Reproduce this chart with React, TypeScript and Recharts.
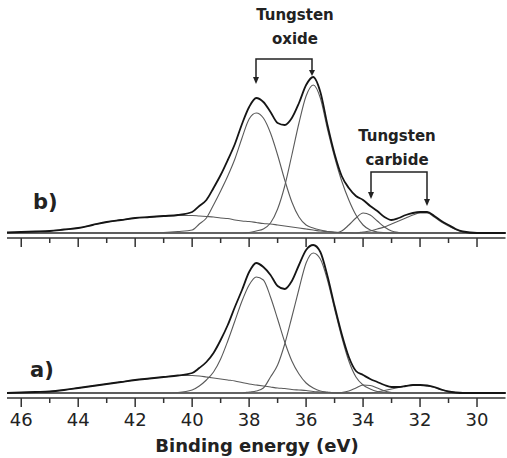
import { LineChart, Line, XAxis, YAxis, ReferenceLine } from "recharts";

// binding energy grid (eV), finer across the W 4f region
const energies = [
  46.5, 46, 45.5, 45, 44.5, 44, 43.5, 43, 42.5, 42, 41.5, 41, 40.5, 40,
  39.75, 39.5, 39.25, 39, 38.75, 38.5, 38.25, 38, 37.75, 37.5,
  37.25, 37, 36.75, 36.5, 36.25, 36, 35.75, 35.5, 35.25, 35,
  34.75, 34.5, 34.25, 34, 33.75, 33.5, 33.25, 33, 32.75, 32.5,
  32.25, 32, 31.75, 31.5, 31.25, 31, 30.75, 30.5,
  30, 29.5, 29,
];

const ticks = [30, 31, 32, 33, 34, 35, 36, 37, 38, 39, 40, 41, 42, 43, 44, 45, 46];

// ---- spectrum b) ----
const bEnvelope = [
  0.5, 1, 1.5, 2, 3.5, 5, 8, 11, 13, 15, 16, 17, 18, 21,
  27, 33, 45, 58, 73, 89, 109, 126, 135, 131,
  121, 110, 108, 115, 130, 148, 156, 141, 108, 79,
  57, 45, 37, 33, 27, 22, 16, 13, 15, 18,
  20, 21, 21, 17, 12, 8, 4, 1.5,
  0, 0, 0,
];
const bBackground = [
  0, 1, 1.5, 2, 3.5, 5, 8, 11, 13, 15, 16, 17, 17.5, 17.5,
  17, 16.5, 16, 15, 14.5, 13, 12, 11.5, 10.5, 9.5,
  9, 8, 7, 6, 5, 4, 3, 2, 1.5, 1,
  0.5, 0.3, 0, 0, 0, 0, 0, 0, 0, 0,
  0, 0, 0, 0, 0, 0, 0, 0,
  0, 0, 0,
];
const bOxide52 = [
  0, 0, 0, 0, 0, 0, 0, 0, 0, 0, 0, 0.5, 1.5, 3,
  9, 15, 28, 42, 57, 74, 95, 114, 120, 115,
  100, 78, 53, 31, 16, 8, 5, 3, 1.5, 0.5,
  0, 0, 0, 0, 0, 0, 0, 0, 0, 0,
  0, 0, 0, 0, 0, 0, 0, 0,
  0, 0, 0,
];
const bOxide72 = [
  0, 0, 0, 0, 0, 0, 0, 0, 0, 0, 0, 0, 0, 0,
  0, 0, 0, 0, 0, 0, 0, 0.5, 2, 4,
  10, 24, 47, 78, 110, 137, 148, 135, 104, 76,
  52, 33, 18, 8, 3, 1, 0.3, 0, 0, 0,
  0, 0, 0, 0, 0, 0, 0, 0,
  0, 0, 0,
];
const bCarbide52 = [
  0, 0, 0, 0, 0, 0, 0, 0, 0, 0, 0, 0, 0, 0,
  0, 0, 0, 0, 0, 0, 0, 0, 0, 0,
  0, 0, 0, 0, 0, 0, 0, 0, 0, 0,
  2, 8, 15, 20, 18, 12, 6, 2, 0.5, 0,
  0, 0, 0, 0, 0, 0, 0, 0,
  0, 0, 0,
];
const bCarbide72 = [
  0, 0, 0, 0, 0, 0, 0, 0, 0, 0, 0, 0, 0, 0,
  0, 0, 0, 0, 0, 0, 0, 0, 0, 0,
  0, 0, 0, 0, 0, 0, 0, 0, 0, 0,
  0, 0, 0, 1, 2, 4, 6, 9, 12, 15,
  18, 20, 20, 16, 11, 7, 3.5, 1,
  0, 0, 0,
];

// ---- spectrum a) ----
const aEnvelope = [
  0, 0.5, 1, 1.5, 3, 5, 7, 9, 11, 13, 14.5, 16, 17.5, 20,
  25, 31, 40, 53, 68, 86, 103, 121, 130, 126,
  118, 107, 104, 112, 128, 143, 148, 141, 117, 87,
  59, 36, 22, 18, 14, 11, 8, 6, 6, 7,
  8, 8, 7.5, 6, 3.5, 1.5, 0.5, 0,
  0, 0, 0,
];
const aBackground = [
  0, 0.5, 1, 1.5, 3, 5, 7, 9, 11, 13, 14.5, 16, 17.5, 17.5,
  17, 16, 15, 14, 13, 12, 10.5, 9, 8, 7,
  6, 5, 4.5, 3.5, 3, 2.5, 1.5, 1, 0.5, 0.3,
  0, 0, 0, 0, 0, 0, 0, 0, 0, 0,
  0, 0, 0, 0, 0, 0, 0, 0,
  0, 0, 0,
];
const aOxide52 = [
  0, 0, 0, 0, 0, 0, 0, 0, 0, 0, 0, 0, 0.5, 3,
  7, 13, 21, 34, 52, 72, 92, 108, 116, 113,
  96, 74, 51, 32, 19, 10, 5, 2, 1, 0,
  0, 0, 0, 0, 0, 0, 0, 0, 0, 0,
  0, 0, 0, 0, 0, 0, 0, 0,
  0, 0, 0,
];
const aOxide72 = [
  0, 0, 0, 0, 0, 0, 0, 0, 0, 0, 0, 0, 0, 0,
  0, 0, 0, 0, 0, 0, 0, 1, 2, 5,
  16, 28, 49, 76, 104, 130, 140, 134, 113, 84,
  56, 32, 16, 8, 4, 1.5, 0.5, 0, 0, 0,
  0, 0, 0, 0, 0, 0, 0, 0,
  0, 0, 0,
];
const aCarbide52 = [
  0, 0, 0, 0, 0, 0, 0, 0, 0, 0, 0, 0, 0, 0,
  0, 0, 0, 0, 0, 0, 0, 0, 0, 0,
  0, 0, 0, 0, 0, 0, 0, 0, 0, 0,
  0.5, 2, 5, 8, 7.5, 5, 2, 0.5, 0, 0,
  0, 0, 0, 0, 0, 0, 0, 0,
  0, 0, 0,
];
const aCarbide72 = [
  0, 0, 0, 0, 0, 0, 0, 0, 0, 0, 0, 0, 0, 0,
  0, 0, 0, 0, 0, 0, 0, 0, 0, 0,
  0, 0, 0, 0, 0, 0, 0, 0, 0, 0,
  0, 0, 0, 0, 0, 1, 2.5, 4, 5.5, 7,
  8, 8, 7, 5.5, 3, 1.5, 0.5, 0,
  0, 0, 0,
];

const FONT = "DejaVu Sans, Verdana, sans-serif";
const COMP = "#5a5a5a";

function rows(env: number[], bg: number[], o52: number[], o72: number[], c52: number[], c72: number[]) {
  return energies.map((e, i) => ({
    e,
    env: env[i],
    bg: bg[i],
    o52: o52[i],
    o72: o72[i],
    c52: c52[i],
    c72: c72[i],
  }));
}

const dataB = rows(bEnvelope, bBackground, bOxide52, bOxide72, bCarbide52, bCarbide72);
const dataA = rows(aEnvelope, aBackground, aOxide52, aOxide72, aCarbide52, aCarbide72);

function makeTick(showLabel: boolean) {
  return (props: any) => {
    const { x, y, payload } = props;
    const major = payload.value % 2 === 0;
    return (
      <g>
        <line x1={x} x2={x} y1={y} y2={y + (major ? 9 : 5)} stroke="#333" strokeWidth={1.5} />
        {showLabel && major && (
          <text x={x} y={y + 28} textAnchor="middle" fontSize={18} fontFamily={FONT} fill="#222">
            {payload.value}
          </text>
        )}
      </g>
    );
  };
}

function Spectrum({ data, top, height, yMax, axisH, labels }: any) {
  return (
    <div style={{ position: "absolute", left: 0, top }}>
      <LineChart width={507} height={height} data={data} margin={{ top: 10, right: 1.5, bottom: 0, left: 7 }}>
        <XAxis
          dataKey="e"
          type="number"
          domain={[29, 46.5]}
          reversed
          ticks={ticks}
          interval={0}
          tickLine={false}
          tickSize={0}
          tickMargin={0}
          tick={makeTick(labels)}
          height={axisH}
          axisLine={{ stroke: "#333", strokeWidth: 1.5 }}
        />
        <YAxis hide domain={[-5, yMax]} />
        <ReferenceLine y={0} stroke="#555" strokeWidth={1.2} />
        <Line dataKey="bg" type="monotone" stroke={COMP} strokeWidth={1.1} dot={false} isAnimationActive={false} />
        <Line dataKey="o52" type="monotone" stroke={COMP} strokeWidth={1.1} dot={false} isAnimationActive={false} />
        <Line dataKey="o72" type="monotone" stroke={COMP} strokeWidth={1.1} dot={false} isAnimationActive={false} />
        <Line dataKey="c52" type="monotone" stroke={COMP} strokeWidth={1.1} dot={false} isAnimationActive={false} />
        <Line dataKey="c72" type="monotone" stroke={COMP} strokeWidth={1.1} dot={false} isAnimationActive={false} />
        <Line dataKey="env" type="monotone" stroke="#151515" strokeWidth={1.8} dot={false} isAnimationActive={false} />
      </LineChart>
    </div>
  );
}

export default function App() {
  return (
    <div style={{ position: "absolute", left: 0, top: 0, width: 507, height: 458, background: "#fff" }}>
      <Spectrum data={dataB} top={0} height={250} yMax={223} axisH={12} labels={false} />
      <Spectrum data={dataA} top={230} height={228} yMax={153} axisH={60} labels={true} />
      <svg width={507} height={458} style={{ position: "absolute", left: 0, top: 0, pointerEvents: "none" }}>
        <g fontFamily={FONT} fontWeight="bold" fill="#222" textAnchor="middle">
          <text x={295} y={20} fontSize={15}>Tungsten</text>
          <text x={295} y={44} fontSize={15}>oxide</text>
          <text x={397} y={141} fontSize={15}>Tungsten</text>
          <text x={397} y={165} fontSize={15}>carbide</text>
          <text x={257} y={452} fontSize={18}>Binding energy (eV)</text>
        </g>
        <g fontFamily={FONT} fontWeight="bold" fill="#222">
          <text x={33} y={209} fontSize={21}>b)</text>
          <text x={30} y={377} fontSize={21}>a)</text>
        </g>
        <g stroke="#222" strokeWidth={1.5} fill="none">
          <path d="M256 80 L256 59 L312 59 L312 72" />
          <path d="M371 195 L371 172 L427 172 L427 202" />
        </g>
        <g fill="#222">
          <polygon points="253,77 259,77 256,84" />
          <polygon points="309,70 315,70 312,76" />
          <polygon points="368,192 374,192 371,199" />
          <polygon points="424,199 430,199 427,206" />
        </g>
      </svg>
    </div>
  );
}
